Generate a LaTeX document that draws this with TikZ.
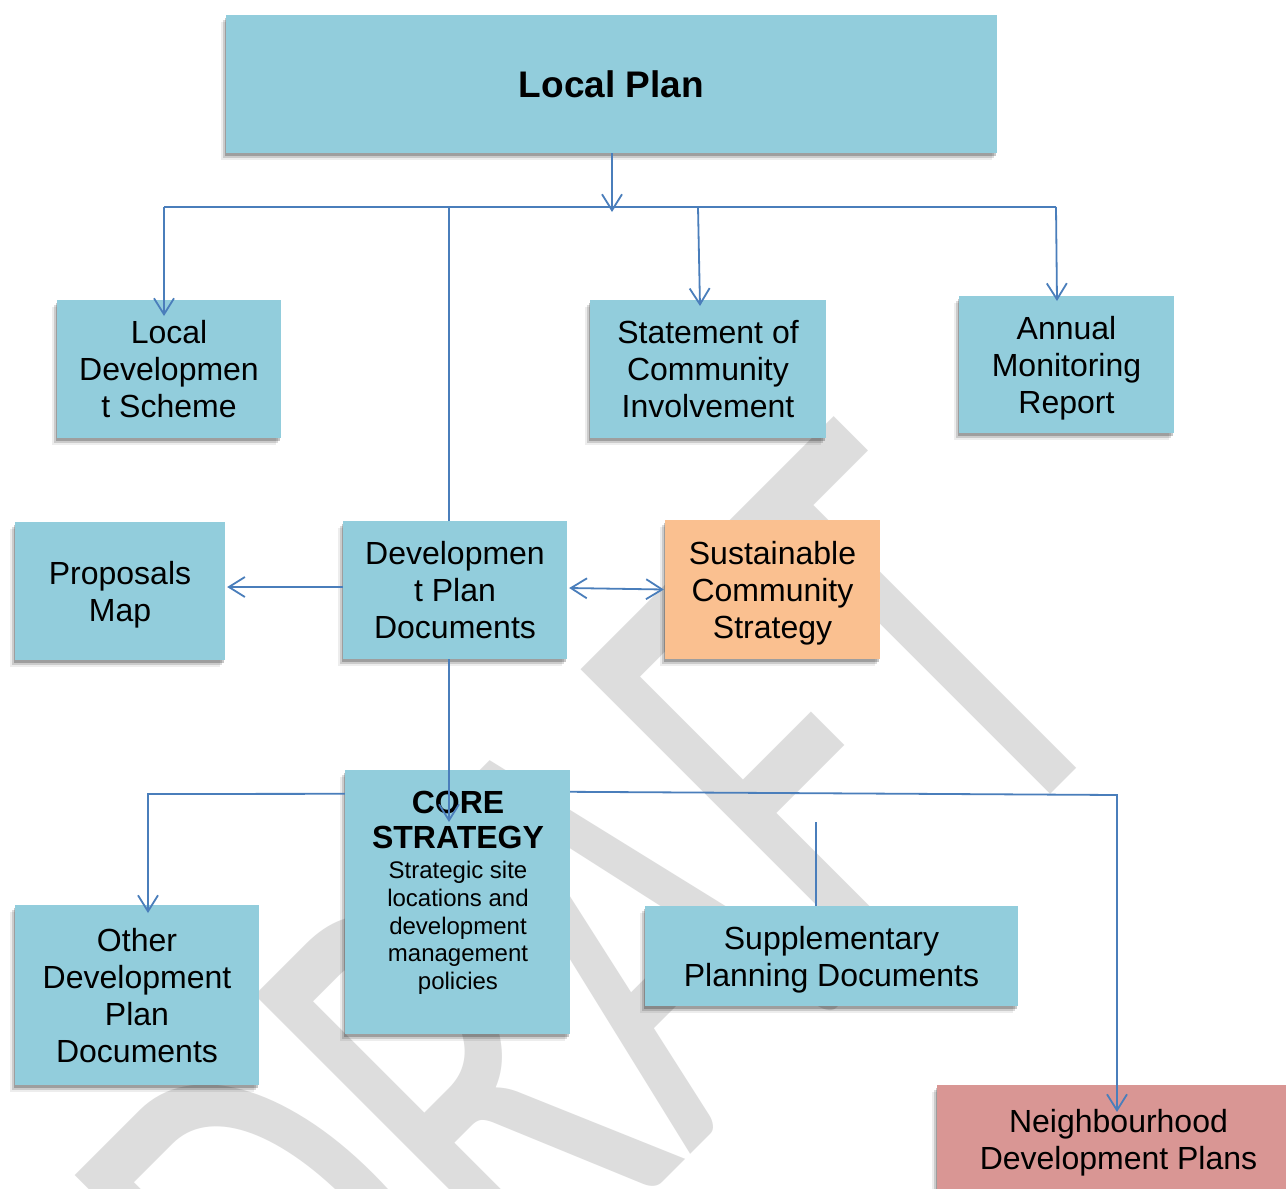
\documentclass[tikz,border=0pt]{standalone}
\usepackage{fontspec}
\setmainfont{Liberation Sans}
\newfontfamily\wmfont{Carlito}
\usetikzlibrary{arrows.meta,shadows}
\definecolor{boxblue}{HTML}{92CDDC}
\definecolor{boxorange}{HTML}{FAC090}
\definecolor{boxred}{HTML}{D99694}
\definecolor{linkblue}{HTML}{4A7EBB}
\definecolor{wmgray}{HTML}{DDDDDD}
\begin{document}
\begin{tikzpicture}[x=1pt,y=-1pt,
  shad/.style={drop shadow={shadow xshift=-1.5pt,shadow yshift=-2.5pt,opacity=.22,fill=black},
               drop shadow={shadow xshift=-3.5pt,shadow yshift=-5pt,opacity=.14,fill=black},
               drop shadow={shadow xshift=-5.5pt,shadow yshift=-7pt,opacity=.07,fill=black}},
  box/.style={shad, fill=boxblue, draw=none, inner sep=0pt, align=center,
              font=\fontsize{32}{37}\selectfont, text=black, text depth=0pt},
  plaintext/.style={inner sep=0pt, align=center, text=black},
  link/.style={draw=linkblue, line width=1.8pt},
  tip/.style={-{Straight Barb[length=16pt,width=20pt]}},
  dtip/.style={{Straight Barb[length=16pt,width=20pt]}-{Straight Barb[length=16pt,width=20pt]}},
]
\useasboundingbox (0,0) rectangle (1286,1189);
\clip (0,0) rectangle (1286,1189);
\fill[white] (0,0) rectangle (1286,1189);

% watermark
\begin{scope}[shift={(352,1493)}, rotate=45, xscale=0.63]
  \node[transform shape, anchor=base west, inner sep=0pt, text=wmgray,
        font=\wmfont\fontsize{655}{655}\selectfont] (wm) at (0,0) {DRAFT};
\end{scope}

% boxes
\node[box, minimum width=771pt, minimum height=138pt,
      font=\bfseries\fontsize{37}{44}\selectfont] (lp) at (611.5,84) {Local Plan};
\node[box, minimum width=224pt, minimum height=138pt] (lds) at (169,369) {Local\\Developmen\\t Scheme};
\node[box, minimum width=236pt, minimum height=138pt] (sci) at (708,369) {Statement of\\Community\\Involvement};
\node[box, minimum width=215pt, minimum height=137pt] (amr) at (1066.5,364.5) {Annual\\Monitoring\\Report};
\node[box, minimum width=210pt, minimum height=138pt] (pm) at (120,591) {Proposals\\Map};
\node[box, minimum width=224pt, minimum height=138pt] (dpd) at (455,590) {Developmen\\t Plan\\Documents};
\node[box, fill=boxorange, minimum width=215pt, minimum height=139pt] (scs) at (772.5,589.5) {Sustainable\\Community\\Strategy};
\node[box, minimum width=225pt, minimum height=264pt] (core) at (457.5,902) {};
\node[box, minimum width=244pt, minimum height=180pt] (odp) at (137,995) {Other\\Development\\Plan\\Documents};
\node[box, minimum width=373pt, minimum height=100pt] (spd) at (831.5,956) {Supplementary\\Planning Documents};
\node[box, fill=boxred, minimum width=363pt, minimum height=109pt] (ndp) at (1118.5,1139.5) {Neighbourhood\\Development Plans};

\node[plaintext, font=\bfseries\fontsize{32}{35}\selectfont] (coretitle) at (458,819.5) {CORE\\STRATEGY};
\node[plaintext, font=\fontsize{24}{27.7}\selectfont] (coresub) at (458,928)
  {Strategic site\\locations and\\development\\management\\policies};

% connector points
\coordinate (lpjoin) at (612,212);
\coordinate (hl) at (164,207);
\coordinate (hr) at (1056,207);
\coordinate (jdp) at (449,207);
\coordinate (jsc) at (698,207);
\coordinate (ldstip) at (164,316);
\coordinate (scitip) at (700,306);
\coordinate (amrtip) at (1057,301);
\coordinate (coretip) at (449,822);
\coordinate (odpturn) at (148,794);
\coordinate (odptip) at (148,913);
\coordinate (ndpturn) at (1117,795);
\coordinate (ndptip) at (1117,1112);
\coordinate (spdstub) at (816,822);

% connectors
\draw[link,tip] (lp.south -| lpjoin) -- (lpjoin);
\draw[link] (hl) -- (hr);
\draw[link,tip] (hl) -- (ldstip);
\draw[link] (jdp) -- (dpd.north -| jdp);
\draw[link,tip] (dpd.south -| jdp) -- (coretip);
\draw[link,tip] (jsc) -- (scitip);
\draw[link,tip] (hr) -- (amrtip);
\draw[link,tip] ([yshift=3pt]dpd.west) -- ([yshift=4pt,xshift=2pt]pm.east);
\draw[link,dtip] ([xshift=2pt,yshift=2pt]dpd.east) -- ([xshift=-1pt]scs.west);
\draw[link,tip] ([yshift=-24pt]core.north west) -- (odpturn) -- (odptip);
\draw[link,tip] ([yshift=-22pt]core.north east) -- (ndpturn) -- (ndptip);
\draw[link] (spdstub) -- (spd.north -| spdstub);
\end{tikzpicture}
\end{document}
